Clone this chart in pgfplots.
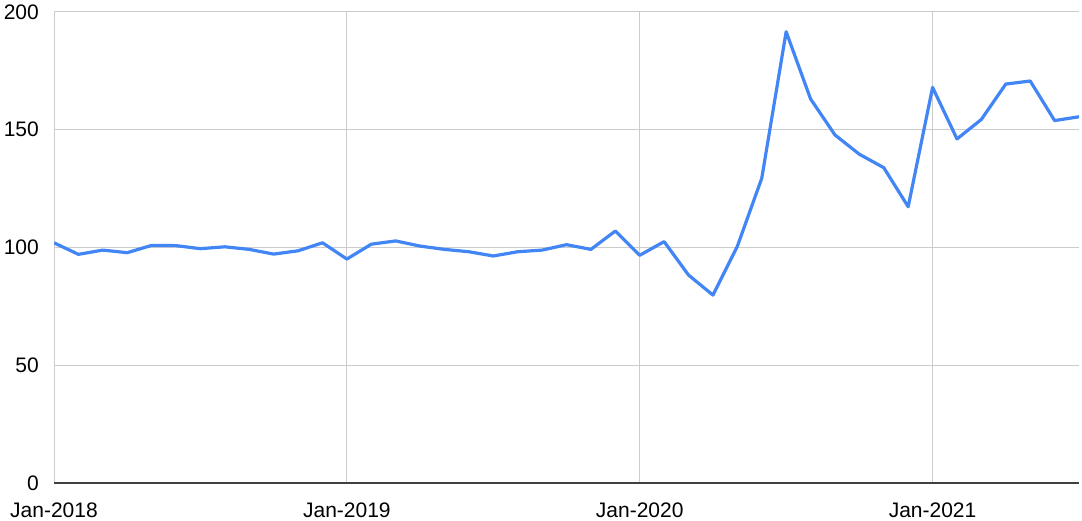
\documentclass[border=0pt]{standalone}
\usepackage{fontspec}
\setmainfont{Liberation Sans}
\usepackage{pgfplots}
\pgfplotsset{compat=1.18}
\definecolor{lineblue}{HTML}{4285F4}
\definecolor{gridgray}{HTML}{CCCCCC}
\begin{document}
\begin{tikzpicture}
\begin{axis}[
  scale only axis,
  width=1025bp, height=471bp,
  xmin=0, xmax=42, ymin=0, ymax=200,
  xtick={0,12,24,36},
  xticklabels={Jan-2018,Jan-2019,Jan-2020,Jan-2021},
  ytick={0,50,100,150,200},
  major tick length=0pt,
  axis x line*=bottom, axis y line*=left,
  y axis line style={draw=none},
  x axis line style={draw=black!75, line width=1.3bp},
  grid=major,
  major grid style={draw=gridgray, line width=1bp},
  tick label style={font=\fontsize{21bp}{25bp}\selectfont},
  /pgf/number format/assume math mode=true,
  yticklabel style={anchor=east, inner sep=0pt, xshift=-15bp},
  xticklabel style={anchor=north, inner sep=0pt, yshift=-19.5bp},
]
\addplot[lineblue, line width=3.2bp, line join=round] table {
x y
0 102
1 97.1
2 98.9
3 97.8
4 100.9
5 100.8
6 99.5
7 100.3
8 99.2
9 97.2
10 98.6
11 102
12 95.1
13 101.4
14 102.8
15 100.6
16 99.2
17 98.2
18 96.4
19 98.2
20 98.9
21 101.2
22 99.2
23 107
24 96.7
25 102.5
26 88.3
27 79.8
28 100.5
29 129.4
30 191.6
31 163.1
32 147.8
33 139.6
34 133.9
35 117.3
36 168
37 146.1
38 154.4
39 169.4
40 170.7
41 153.9
42 155.5
};
\end{axis}
\path (current axis.south west) ++(-54bp,-37bp) coordinate (bbA);
\path (current axis.north east) ++(3bp,12bp) coordinate (bbB);
\path (bbA) rectangle (bbB);
\end{tikzpicture}
\end{document}
